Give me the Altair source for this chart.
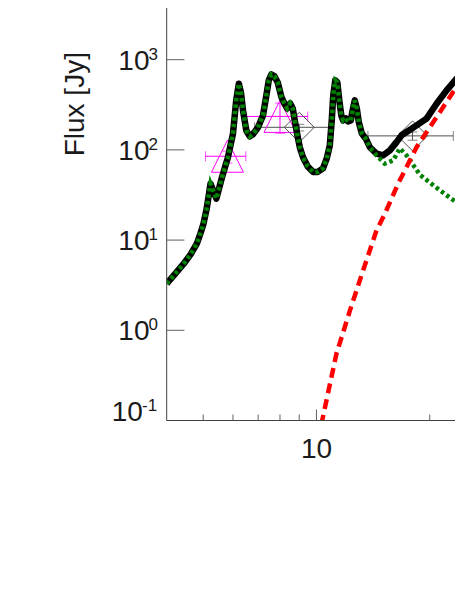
import altair as alt
import pandas as pd

# ---------------- data ----------------
# total model and PAH component share the same path below ~14 micron
common_wl = [4.0, 4.20, 4.44, 4.63, 4.81, 4.92, 5.01, 5.11, 5.23, 5.42, 5.61, 5.82,
             6.00, 6.12, 6.22, 6.30, 6.38, 6.51, 6.65, 6.78, 6.99, 7.21, 7.36, 7.47,
             7.59, 7.74, 7.89, 8.07, 8.24, 8.36, 8.51, 8.65, 8.85, 9.03, 9.21, 9.48,
             9.80, 10.08, 10.41, 10.65, 10.85, 10.98, 11.08, 11.22, 11.36, 11.50,
             11.64, 11.77, 11.97, 12.14, 12.34, 12.49, 12.64, 12.80, 12.96, 13.20,
             13.53, 13.86]
common_flux = [3.29, 4.17, 5.47, 6.94, 9.12, 11.9, 15.2, 22.4, 42.2, 28.8, 49.5, 83.2,
               151, 354, 542, 434, 274, 164, 141, 149, 177, 241, 402, 590,
               687, 653, 560, 385, 319, 288, 328, 288, 164, 107, 82.6, 65.6,
               56.8, 57, 62.4, 80.5, 112, 212, 402, 590, 560, 354,
               241, 212, 223, 207, 212, 281, 354, 288, 202, 152,
               133, 107]

total_tail_wl = [14.44, 15.03, 15.67, 16.32, 16.83, 17.36, 18.45, 19.61, 20.85, 22.17, 23.57, 24.5, 26.0]
total_tail_flux = [90.8, 86.9, 98.7, 122, 145, 158, 187, 222, 325, 457, 615, 729, 980]

pah_tail_wl = [14.44, 15.19, 15.99, 16.66, 17.36, 18.83, 20.85, 22.62, 24.30, 26.0]
pah_tail_flux = [86.9, 70.3, 76.5, 104, 86.9, 53, 38, 29.5, 24, 20]

dust_wl = [10.3, 11.30, 12.27, 13.30, 14.44, 15.19, 16.48, 17.00, 18.45, 20.85, 22.62, 24.30, 26.0]
dust_flux = [0.09, 0.55, 1.65, 4.6, 12.8, 19.5, 42.2, 54.5, 107, 231, 385, 615, 960]

# photometry: IRAC (triangles) and AKARI (diamonds)
irac_wl = [5.8, 8.0]
irac_flux = [85, 235]
irac_xlo = [5.07, 6.49]
irac_xhi = [6.49, 9.48]
irac_ylo = [71.5, 153]
irac_yhi = [97, 330]

akari_wl = [9.0, 18.0]
akari_flux = [178, 143]
akari_xlo = [6.85, 13.7]
akari_xhi = [11.0, 23.1]
akari_ylo = [162, 128]
akari_yhi = [192, 158]

# axis ticks / labels
ytick_vals = [1, 10, 100, 1000]
ylabel_vals = [1000, 100, 10, 1]
ylabel_exps = ["3", "2", "1", "0"]
ylabel_low_val = [0.1]
ylabel_low_exp = ["-1"]
xtick_major = [10]
xtick_minor = [5, 6, 7, 8, 9, 20]
xlabel_vals = [10]
xlabel_text = ["10"]

# ---------------- layout ----------------
W = 288.3
H = 412.5
FONT = "Liberation Sans"
xs = alt.Scale(type="log", domain=[4.0, 23.34], nice=False)
ys = alt.Scale(type="log", domain=[0.1, 3741], nice=False)

def X(f):
    return alt.X(f, type="quantitative", scale=xs, axis=None)

def Y(f):
    return alt.Y(f, type="quantitative", scale=ys, axis=None)

total = pd.DataFrame({"wl": common_wl + total_tail_wl, "f": common_flux + total_tail_flux})
pah = pd.DataFrame({"wl": common_wl + pah_tail_wl, "f": common_flux + pah_tail_flux})
dust = pd.DataFrame({"wl": dust_wl, "f": dust_flux})
irac = pd.DataFrame({"wl": irac_wl, "f": irac_flux, "xlo": irac_xlo, "xhi": irac_xhi,
                     "ylo": irac_ylo, "yhi": irac_yhi})
akari = pd.DataFrame({"wl": akari_wl, "f": akari_flux, "xlo": akari_xlo, "xhi": akari_xhi,
                      "ylo": akari_ylo, "yhi": akari_yhi})

def errbars(df, color):
    base = alt.Chart(df)
    hb = base.mark_rule(color=color, strokeWidth=1, clip=True).encode(x=X("xlo"), x2="xhi", y=Y("f"))
    vb = base.mark_rule(color=color, strokeWidth=1).encode(x=X("wl"), y=Y("ylo"), y2="yhi")
    c1 = base.mark_tick(color=color, orient="vertical", size=10, thickness=1).encode(x=X("xlo"), y=Y("f"))
    c2 = base.mark_tick(color=color, orient="vertical", size=10, thickness=1).encode(x=X("xhi"), y=Y("f"))
    c3 = base.mark_tick(color=color, orient="horizontal", size=10, thickness=1).encode(x=X("wl"), y=Y("ylo"))
    c4 = base.mark_tick(color=color, orient="horizontal", size=10, thickness=1).encode(x=X("wl"), y=Y("yhi"))
    return [hb, vb, c1, c2, c3, c4]

MAG = "#ff00ff"
GRY = "#505050"

tri = alt.Chart(irac).mark_point(shape="M0,-1L1,1L-1,1Z", size=1024, filled=False,
                                 strokeWidth=1, color=MAG, opacity=1).encode(x=X("wl"), y=Y("f"))
dia = alt.Chart(akari).mark_point(shape="diamond", size=900, filled=False,
                                  strokeWidth=1, color=GRY, opacity=1).encode(x=X("wl"), y=Y("f"))

black = alt.Chart(total).mark_line(color="black", strokeWidth=6.5, clip=True,
                                   strokeJoin="round").encode(x=X("wl"), y=Y("f"), order="wl:Q")
green = alt.Chart(pah).mark_line(color="#008000", strokeWidth=4.5, strokeDash=[3.5, 3],
                                 clip=True).encode(x=X("wl"), y=Y("f"), order="wl:Q")
red = alt.Chart(dust).mark_line(color="#ff0000", strokeWidth=4.5, strokeDash=[10, 6],
                                clip=True).encode(x=X("wl"), y=Y("f"), order="wl:Q")

one = pd.DataFrame({"a": [0]})
AX = "#404040"
yaxis = alt.Chart(one).mark_rule(color=AX, strokeWidth=1).encode(
    x=alt.value(0), y=alt.value(0), y2=alt.value(H))
xaxis = alt.Chart(one).mark_rule(color=AX, strokeWidth=1).encode(
    x=alt.value(0), x2=alt.value(W), y=alt.value(H))
yticks = alt.Chart(pd.DataFrame({"v": ytick_vals})).mark_rule(color="#606060", strokeWidth=1).encode(
    y=Y("v"), x=alt.value(0), x2=alt.value(17.7))
xmaj = alt.Chart(pd.DataFrame({"v": xtick_major})).mark_rule(color="#606060", strokeWidth=1).encode(
    x=X("v"), y=alt.value(H), y2=alt.value(H - 11))
xmin = alt.Chart(pd.DataFrame({"v": xtick_minor})).mark_rule(color="#606060", strokeWidth=1).encode(
    x=X("v"), y=alt.value(H), y2=alt.value(H - 6))

ylab = pd.DataFrame({"v": ylabel_vals, "e": ylabel_exps, "b": ["10"] * len(ylabel_vals)})
ylab_low = pd.DataFrame({"v": ylabel_low_val, "e": ylabel_low_exp, "b": ["10"]})
TXT = "#1a1a1a"
y10 = alt.Chart(ylab).mark_text(font=FONT, fontSize=28, align="right", baseline="alphabetic",
                                dy=10, color=TXT).encode(y=Y("v"), x=alt.value(-17.2), text="b:N")
yexp = alt.Chart(ylab).mark_text(font=FONT, fontSize=17, align="left", baseline="alphabetic",
                                 dy=0, color=TXT).encode(y=Y("v"), x=alt.value(-18.1), text="e:N")
y10low = alt.Chart(ylab_low).mark_text(font=FONT, fontSize=28, align="right", baseline="alphabetic",
                                       dy=0, color=TXT).encode(y=Y("v"), x=alt.value(-23.8), text="b:N")
yexplow = alt.Chart(ylab_low).mark_text(font=FONT, fontSize=17, align="left", baseline="alphabetic",
                                        dy=-10, color=TXT).encode(y=Y("v"), x=alt.value(-24.7), text="e:N")
xlab = alt.Chart(pd.DataFrame({"v": xlabel_vals, "t": xlabel_text})).mark_text(
    font=FONT, fontSize=28, align="center", baseline="alphabetic", color=TXT).encode(
    x=X("v"), y=alt.value(H + 37.8), text="t:N")
ytitle = alt.Chart(one).mark_text(font=FONT, fontSize=28, angle=270, align="center",
                                  baseline="alphabetic", color=TXT).encode(
    x=alt.value(-83.2), y=alt.value(96.2), text=alt.value("Flux [Jy]"))

layers = (errbars(irac, MAG) + errbars(akari, GRY) + [tri, dia, black, green, red,
          yaxis, xaxis, yticks, xmaj, xmin, y10, yexp, y10low, yexplow, xlab, ytitle])

chart = alt.layer(*layers).properties(
    width=W, height=H,
    autosize=alt.AutoSizeParams(type="none"),
    padding={"left": 158.7, "top": 0, "right": 0, "bottom": 165},
).configure_view(stroke=None)

chart.save("out.html", embed_options={"renderer": "svg", "actions": False})
